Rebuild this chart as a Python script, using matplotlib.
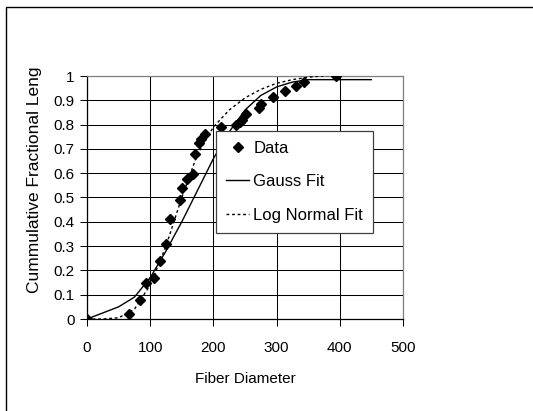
import numpy as np
import matplotlib
matplotlib.use('Agg')
import matplotlib.pyplot as plt
from matplotlib.patches import Rectangle
from matplotlib.transforms import Bbox

plt.rcParams['font.family'] = ['Liberation Sans', 'DejaVu Sans']

# measured data points
data_x = [0, 66, 84, 93, 106, 116, 125, 131, 147, 151, 158, 167, 171, 177, 180, 186,
          212, 236, 242, 246, 252, 272, 276, 294, 313, 331, 344, 394]
data_y = [0.0, 0.02, 0.08, 0.15, 0.17, 0.24, 0.31, 0.41, 0.49, 0.54, 0.575, 0.595,
          0.68, 0.725, 0.74, 0.76, 0.79, 0.80, 0.81, 0.82, 0.845, 0.87, 0.885, 0.915,
          0.94, 0.96, 0.975, 1.0]

# fitted curves
gauss_x = [0, 25, 50, 75, 100, 125, 150, 175, 200, 225, 250, 275, 300, 325, 350, 400, 450]
gauss_y = [0.0, 0.025, 0.05, 0.09, 0.17, 0.28, 0.40, 0.53, 0.66, 0.77, 0.86, 0.92,
           0.955, 0.975, 0.985, 0.985, 0.985]

lognorm_x = [0, 25, 50, 75, 100, 125, 150, 175, 200, 225, 250, 275, 300, 325, 350, 395]
lognorm_y = [0.0, 0.0, 0.005, 0.04, 0.14, 0.30, 0.50, 0.68, 0.79, 0.86, 0.91, 0.945,
             0.97, 0.985, 0.995, 1.005]

W, H = 533, 411
fig = plt.figure(figsize=(W / 100, H / 100), dpi=100)
ax = fig.add_axes([87 / W, (H - 319) / H, 316 / W, 243 / H])

ax.plot(data_x, data_y, linestyle='none', marker='D', color='black', markersize=5,
        label='Data', zorder=5)
ax.plot(gauss_x, gauss_y, color='black', lw=1, label='Gauss Fit', zorder=4)
ax.plot(lognorm_x, lognorm_y, color='black', lw=1, linestyle=(0, (2, 2)),
        label='Log Normal Fit', zorder=4)

ax.set_xlim(0, 500)
ax.set_ylim(0, 1)
ax.set_xticks(np.arange(0, 501, 100))
ax.set_yticks(np.round(np.arange(0, 1.01, 0.1), 1))
ax.set_yticklabels(['0', '0.1', '0.2', '0.3', '0.4', '0.5', '0.6', '0.7', '0.8', '0.9', '1'])
ax.grid(True, color='black', lw=0.75)
ax.set_axisbelow(True)
ax.tick_params(axis='x', direction='out', length=5, width=0.75, pad=11, labelsize=11)
ax.tick_params(axis='y', direction='out', length=5, width=0.75, pad=4, labelsize=11)
for s in ['left', 'bottom']:
    ax.spines[s].set_linewidth(0.9)
for s in ['top', 'right']:
    ax.spines[s].set_color('#808080')
    ax.spines[s].set_linewidth(0.9)

ax.set_xlabel('Fiber Diameter', fontsize=11, va='center')
ax.xaxis.set_label_coords(0.5, -0.247)

yl = fig.text(35 / W, (H - 293) / H, 'Cummulative Fractional Length', rotation=90,
              ha='center', va='bottom', fontsize=12.5)
yl.set_clip_box(Bbox([[0, 0], [W, H - 68]]))
yl.set_clip_on(True)

leg = ax.legend(loc='upper left', bbox_to_anchor=(0.408, 0.774), borderaxespad=0,
                fontsize=12, frameon=True, fancybox=False, framealpha=1,
                edgecolor='#404040', handlelength=1.4, handletextpad=0.25,
                labelspacing=1.1, borderpad=0.6)
leg.get_frame().set_linewidth(0.9)

# chart area border (only top and left visible)
fig.patches.append(Rectangle((6 / W, -0.1), 1.2, (H - 7) / H + 0.1, transform=fig.transFigure,
                             fill=False, edgecolor='black', lw=1))

fig.savefig('out.png', dpi=100)
